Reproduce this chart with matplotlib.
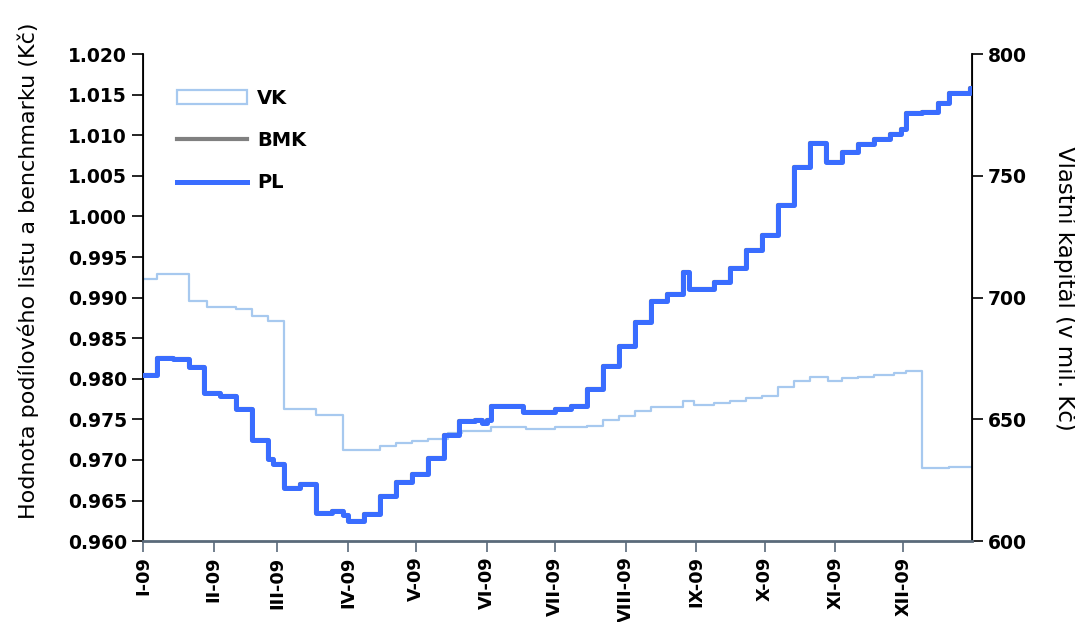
import matplotlib
matplotlib.use("Agg")
import matplotlib.pyplot as plt
from matplotlib.lines import Line2D
from matplotlib.patches import Patch
import pandas as pd

# PL (podilovy list) - weekly NAV, held until next change
pl_dates = ["2009-01-01", "2009-01-07", "2009-01-14", "2009-01-21", "2009-01-28",
            "2009-02-04", "2009-02-11", "2009-02-18", "2009-02-25", "2009-02-27",
            "2009-03-04", "2009-03-11", "2009-03-18", "2009-03-25", "2009-03-30",
            "2009-04-01", "2009-04-08", "2009-04-15", "2009-04-22", "2009-04-29",
            "2009-05-06", "2009-05-13", "2009-05-20", "2009-05-27", "2009-05-30",
            "2009-06-01", "2009-06-03", "2009-06-17", "2009-07-01", "2009-07-08",
            "2009-07-15", "2009-07-22", "2009-07-29", "2009-08-05", "2009-08-12",
            "2009-08-19", "2009-08-26", "2009-08-29", "2009-09-09", "2009-09-16",
            "2009-09-23", "2009-09-30", "2009-10-07", "2009-10-14", "2009-10-21",
            "2009-10-28", "2009-11-04", "2009-11-11", "2009-11-18", "2009-11-25",
            "2009-11-30", "2009-12-02", "2009-12-09", "2009-12-16", "2009-12-21",
            "2009-12-30", "2009-12-31"]
pl_values = [0.9805, 0.9826, 0.9824, 0.9815, 0.9782,
             0.9779, 0.9763, 0.9724, 0.9701, 0.9695,
             0.9665, 0.9671, 0.9635, 0.9637, 0.9632,
             0.9625, 0.9634, 0.9655, 0.9673, 0.9683,
             0.9703, 0.9731, 0.9748, 0.9749, 0.9745,
             0.9749, 0.9766, 0.97585, 0.9763, 0.9766,
             0.9787, 0.9816, 0.9841, 0.9870, 0.9896,
             0.9904, 0.9932, 0.9911, 0.99195, 0.9936,
             0.99585, 0.9977, 1.0014, 1.0061, 1.0090,
             1.0067, 1.0080, 1.0089, 1.0096, 1.0102,
             1.0108, 1.0127, 1.0129, 1.0140, 1.0152,
             1.0158, 1.0158]
# benchmark coincides with PL in the picture (fully hidden beneath it)
bmk_values = list(pl_values)

# VK (vlastni kapital, mil. Kc)
vk_dates = ["2009-01-01", "2009-01-07", "2009-01-21", "2009-01-29", "2009-02-11",
            "2009-02-18", "2009-02-25", "2009-03-04", "2009-03-18", "2009-03-30",
            "2009-04-15", "2009-04-22", "2009-04-29", "2009-05-06", "2009-05-15",
            "2009-05-21", "2009-06-03", "2009-06-18", "2009-07-01", "2009-07-15",
            "2009-07-22", "2009-07-29", "2009-08-05", "2009-08-12", "2009-08-26",
            "2009-08-31", "2009-09-09", "2009-09-16", "2009-09-23", "2009-09-30",
            "2009-10-07", "2009-10-14", "2009-10-21", "2009-10-29", "2009-11-04",
            "2009-11-11", "2009-11-18", "2009-11-27", "2009-12-02", "2009-12-09",
            "2009-12-21", "2009-12-31"]
vk_values = [707.6, 709.7, 698.6, 696.2, 695.3,
             692.4, 690.4, 654.2, 652.0, 637.4,
             639.0, 640.5, 641.2, 641.9, 644.5,
             645.3, 646.7, 645.9, 646.7, 647.4,
             649.8, 651.5, 653.5, 655.2, 657.5,
             656.1, 656.7, 657.5, 658.9, 659.8,
             663.1, 665.8, 667.5, 665.8, 666.8,
             667.5, 668.2, 669.1, 669.8, 629.9,
             630.5, 630.5]

month_labels = ["I-09", "II-09", "III-09", "IV-09", "V-09", "VI-09",
                "VII-09", "VIII-09", "IX-09", "X-09", "XI-09", "XII-09"]

PL_COLOR = "#3a6dff"
BMK_COLOR = "#808080"
VK_COLOR = "#a7c9ef"

plt.rcParams["font.family"] = ["DejaVu Sans"]

fig = plt.figure(figsize=(10.75, 6.22), dpi=100)
ax = fig.add_axes([0.133, 0.130, 0.771, 0.783])
ax2 = ax.twinx()

pl_x = pd.to_datetime(pl_dates)
vk_x = pd.to_datetime(vk_dates)

ax2.plot(vk_x, vk_values, drawstyle="steps-post", color=VK_COLOR, lw=1.6, zorder=1)
ax.plot(pl_x, bmk_values, drawstyle="steps-post", color=BMK_COLOR, lw=3.0, zorder=2)
ax.plot(pl_x, pl_values, drawstyle="steps-post", color=PL_COLOR, lw=3.6, zorder=3)
ax.set_zorder(ax2.get_zorder() + 1)
ax.patch.set_visible(False)

ax.set_xlim(pd.Timestamp("2009-01-01"), pd.Timestamp("2009-12-31"))
ax.set_ylim(0.960, 1.020)
ax.set_yticks([0.960 + 0.005 * i for i in range(13)])
ax.set_yticklabels([f"{0.960 + 0.005 * i:.3f}" for i in range(13)])
ax2.set_ylim(600, 800)
ax2.set_yticks([600, 650, 700, 750, 800])

ticks = pd.date_range("2009-01-01", periods=12, freq="MS")
ax.set_xticks(ticks)
ax.set_xticklabels(month_labels, rotation=90)

for a in (ax, ax2):
    a.spines["top"].set_visible(False)
    a.tick_params(axis="both", labelsize=13.5, length=8, width=1.2, direction="out")
    for lab in a.get_xticklabels() + a.get_yticklabels():
        lab.set_fontweight("bold")
ax.tick_params(axis="x", labelsize=12.8)
ax.spines["left"].set_linewidth(1.3)
ax2.spines["right"].set_linewidth(1.3)
ax.spines["bottom"].set_color("#5a6a7a")
ax.spines["bottom"].set_linewidth(2.0)
ax2.spines["bottom"].set_visible(False)
ax.tick_params(axis="x", colors="#5a6a7a", labelcolor="black", pad=3)

ax.set_ylabel("Hodnota podílového listu a benchmarku (Kč)", fontsize=16)
ax.yaxis.set_label_coords(-0.126, 0.556)
ax2.set_ylabel("Vlastní kapitál (v mil. Kč)", fontsize=16.5, rotation=270, va="center")
ax2.yaxis.set_label_coords(1.112, 0.52)

handles = [Patch(facecolor="white", edgecolor=VK_COLOR, lw=1.6),
           Line2D([], [], color=BMK_COLOR, lw=3.0),
           Line2D([], [], color=PL_COLOR, lw=3.6)]
ax.legend(handles, ["VK", "BMK", "PL"], loc="upper left", bbox_to_anchor=(0.02, 0.965),
          frameon=False, prop={"weight": "bold", "size": 14}, handlelength=3.6,
          labelspacing=1.2, handletextpad=0.5)

fig.savefig("out.png", dpi=100)
